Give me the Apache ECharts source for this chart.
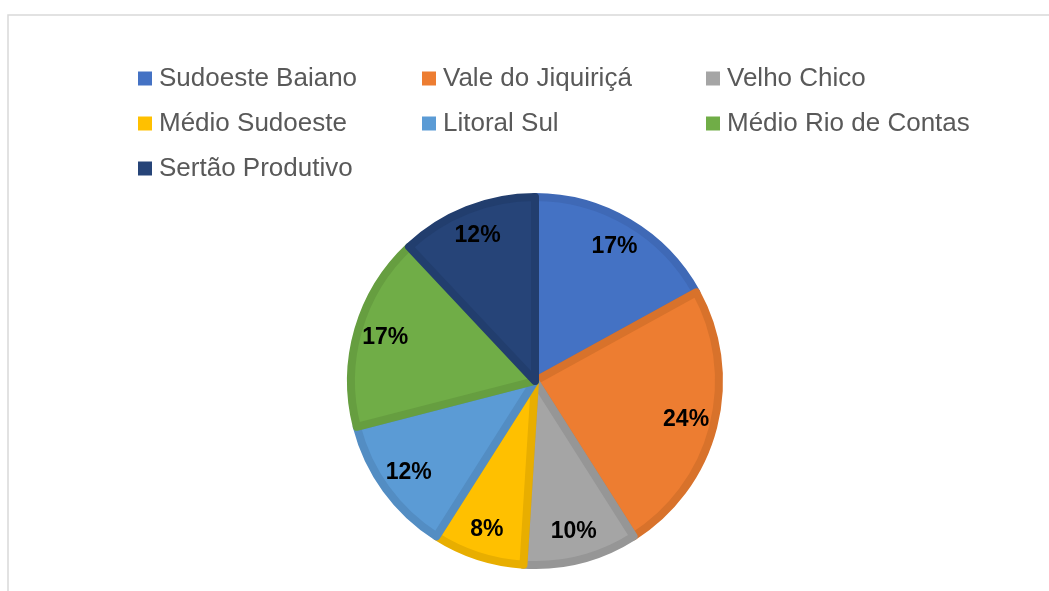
<!DOCTYPE html>
<html lang="pt">
<head>
<meta charset="UTF-8">
<title>Pizza</title>
<script src="https://cdn.jsdelivr.net/npm/echarts@6/dist/echarts.min.js"></script>
<style>
  html, body { margin: 0; padding: 0; background: #fff; }
  #main { width: 1049px; height: 591px; }
</style>
</head>
<body>
<div id="main"></div>
<script>
var territorios = ['Sudoeste Baiano', 'Vale do Jiquiriçá', 'Velho Chico', 'Médio Sudoeste', 'Litoral Sul', 'Médio Rio de Contas', 'Sertão Produtivo'];
var percentuais = [17, 24, 10, 8, 12, 17, 12];
var cores = ['#4472C4', '#ED7D31', '#A5A5A5', '#FFC000', '#5B9BD5', '#70AD47', '#264478'];
var bordas = ['#3F69B6', '#D8722B', '#969696', '#E8AE00', '#538DC3', '#669E40', '#223E6E'];

var myChart = echarts.init(document.getElementById('main'));

var dados = territorios.map(function (nome, i) {
    return {
        name: nome,
        value: percentuais[i],
        itemStyle: { color: cores[i], borderColor: bordas[i] }
    };
});

// serie so para os rotulos, um pouco mais para fora
var rotulos = territorios.map(function (nome, i) {
    return { name: nome, value: percentuais[i] };
});

var option = {
    animation: false,
    graphic: [{
        type: 'rect',
        shape: { x: 8, y: 15, width: 1200, height: 800 },
        style: { fill: 'none', stroke: '#D9D9D9', lineWidth: 1.5 },
        silent: true
    }],
    legend: {
        data: territorios,
        orient: 'horizontal',
        left: 138,
        top: 56,
        padding: 0,
        width: 870,
        itemWidth: 14,
        itemHeight: 14,
        itemGap: 0,
        icon: 'rect',
        itemStyle: { borderWidth: 0 },
        textStyle: {
            fontFamily: 'Liberation Sans, Arial, sans-serif',
            fontSize: 26,
            color: '#595959',
            width: 263,
            padding: [0, 0, 0, 2],
            lineHeight: 45
        }
    },
    series: [{
        name: 'Territórios',
        type: 'pie',
        center: [535, 381],
        radius: 184,
        startAngle: 90,
        clockwise: true,
        label: { show: false },
        labelLine: { show: false },
        itemStyle: { borderWidth: 8 },
        emphasis: { disabled: true },
        data: dados
    }, {
        name: 'Rótulos',
        type: 'pie',
        center: [535, 381],
        radius: [118, 188],
        startAngle: 90,
        clockwise: true,
        silent: true,
        itemStyle: { color: 'rgba(0,0,0,0)', borderWidth: 0 },
        label: {
            show: true,
            position: 'inside',
            formatter: '{d}%',
            fontFamily: 'Liberation Sans, Arial, sans-serif',
            fontSize: 23,
            fontWeight: 'bold',
            color: '#000'
        },
        labelLine: { show: false },
        emphasis: { disabled: true },
        data: rotulos
    }]
};

myChart.setOption(option);
</script>
</body>
</html>
